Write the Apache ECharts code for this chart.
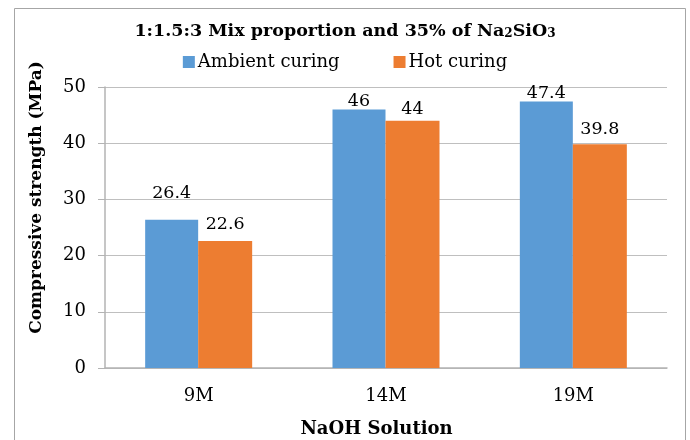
<!DOCTYPE html>
<html>
<head>
<meta charset="utf-8">
<script src="https://cdn.jsdelivr.net/npm/echarts@6/dist/echarts.min.js"></script>
<style>
  html, body { margin: 0; padding: 0; background: #fff; }
  #chart { width: 690px; height: 440px; }
</style>
</head>
<body>
<div id="chart"></div>
<script>
// data
const categories = ['9M', '14M', '19M'];
const ambientCuring = [26.4, 46, 47.4];
const hotCuring = [22.6, 44, 39.8];
const yTicks = { min: 0, max: 50, interval: 10 };

const serif = '"DejaVu Serif", "Liberation Serif", serif';

// gap between each data label and its bar (the labels were nudged by hand in the original)
const ambientLabelGap = [17, -1, -1];
const hotLabelGap = [8, 2, 6];

function withLabelGap(values, gaps) {
    return values.map((v, i) => ({ value: v, label: { distance: gaps[i] } }));
}

const labelStyle = { show: true, position: 'top', fontFamily: serif, fontSize: 17.5, color: '#000' };

const chart = echarts.init(document.getElementById('chart'), null, { renderer: 'canvas' });
chart.setOption({
    backgroundColor: '#fff',
    animation: false,
    graphic: [
        {
            type: 'rect',
            shape: { x: 14.5, y: 8.5, width: 671, height: 440 },
            style: { fill: 'none', stroke: '#a6a6a6', lineWidth: 1 },
            silent: true
        }
    ],
    title: {
        text: '{t|1:1.5:3 Mix proportion and 35% of Na}{s|2}{t|SiO}{s|3}',
        left: 'center',
        top: 15,
        textStyle: {
            rich: {
                t: { fontFamily: serif, fontWeight: 'bold', fontSize: 17.5, color: '#000', verticalAlign: 'bottom' },
                s: { fontFamily: serif, fontWeight: 'bold', fontSize: 12, color: '#000', padding: [8, 0, 0, 0], verticalAlign: 'bottom' }
            }
        }
    },
    legend: {
        top: 48,
        left: 'center',
        itemWidth: 12,
        itemHeight: 12,
        itemGap: 54,
        icon: 'rect',
        textStyle: { fontFamily: serif, fontSize: 18, color: '#000', padding: [0, 0, 0, -2] },
        data: ['Ambient curing', 'Hot curing']
    },
    grid: { left: 105, right: 23, top: 87, bottom: 72, containLabel: false, outerBoundsMode: 'none' },
    xAxis: {
        type: 'category',
        data: categories,
        name: 'NaOH Solution',
        nameLocation: 'middle',
        nameGap: 52,
        nameTextStyle: { fontFamily: serif, fontWeight: 'bold', fontSize: 18, color: '#000', padding: [0, 19, 0, 0] },
        axisLine: { lineStyle: { color: '#b3b3b3', width: 1.5 } },
        axisTick: { show: false },
        axisLabel: { fontFamily: serif, fontSize: 18, color: '#000', margin: 19 }
    },
    yAxis: {
        type: 'value',
        min: yTicks.min,
        max: yTicks.max,
        interval: yTicks.interval,
        name: 'Compressive strength (MPa)',
        nameLocation: 'middle',
        nameGap: 60,
        nameTextStyle: { fontFamily: serif, fontWeight: 'bold', fontSize: 17, color: '#000', padding: [0, 0, 0, 60] },
        axisLine: { show: true, lineStyle: { color: '#b3b3b3', width: 1.5 } },
        axisTick: { show: true, length: 7, lineStyle: { color: '#b3b3b3' } },
        axisLabel: { fontFamily: serif, fontSize: 18, color: '#000', margin: 19 },
        splitLine: { lineStyle: { color: '#bfbfbf', width: 1 } }
    },
    series: [
        {
            name: 'Ambient curing',
            type: 'bar',
            data: withLabelGap(ambientCuring, ambientLabelGap),
            barWidth: 53,
            barGap: '0%',
            itemStyle: { color: '#5b9bd5' },
            label: labelStyle
        },
        {
            name: 'Hot curing',
            type: 'bar',
            data: withLabelGap(hotCuring, hotLabelGap),
            barWidth: 54,
            itemStyle: { color: '#ed7d31' },
            label: labelStyle
        }
    ]
});
</script>
</body>
</html>
